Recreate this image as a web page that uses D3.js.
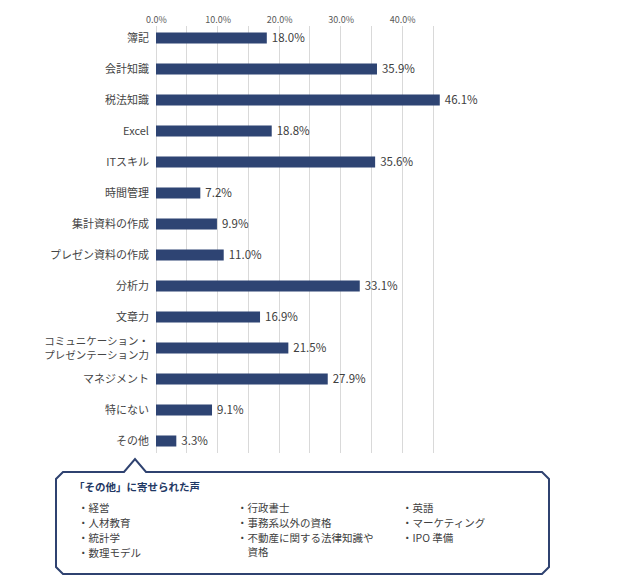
<!DOCTYPE html>
<html><head><meta charset="utf-8">
<script src="https://cdn.jsdelivr.net/npm/d3@7"></script>
<style>
html,body{margin:0;padding:0;background:#fff;}
svg{display:block;font-family:"Noto Sans CJK JP","Noto Sans",sans-serif;}
</style></head>
<body>
<svg id="chart" width="617" height="587"></svg>
<script>
const categories = ["簿記","会計知識","税法知識","Excel","ITスキル","時間管理","集計資料の作成","プレゼン資料の作成","分析力","文章力","コミュニケーション・\nプレゼンテーション力","マネジメント","特にない","その他"];
const values = [18.0,35.9,46.1,18.8,35.6,7.2,9.9,11.0,33.1,16.9,21.5,27.9,9.1,3.3];
const tickValues = [0,10,20,30,40];
const gridValues = [0,5,10,15,20,25,30,35,40,45];
const calloutTitle = "「その他」に寄せられた声";
const calloutCol1 = ["経営","人材教育","統計学","数理モデル"];
const calloutCol2 = ["行政書士","事務系以外の資格","不動産に関する法律知識や\n資格"];
const calloutCol3 = ["英語","マーケティング","IPO 準備"];

const svg = d3.select("#chart");
const x = d3.scaleLinear().domain([0,45]).range([156,433]);
const y = d3.scaleBand().domain(categories).range([22.5,456.5]).paddingInner(0.645).paddingOuter(0.3225);

// grid
svg.append("g").selectAll("line").data(gridValues).join("line")
  .attr("x1",d=>x(d)).attr("x2",d=>x(d)).attr("y1",26).attr("y2",453)
  .attr("stroke","#d9d9d9").attr("stroke-width",1).attr("shape-rendering","crispEdges");

// top axis labels
const axis = d3.axisTop(x).tickValues(tickValues).tickSize(0).tickPadding(0).tickFormat(d=>d.toFixed(1)+"%");
const ag = svg.append("g").attr("transform","translate(0,23)").call(axis);
ag.select(".domain").remove();
ag.selectAll("text").attr("font-size","9px").attr("fill","#595959").attr("font-family","'Noto Sans CJK JP',sans-serif");

// bars
svg.append("g").selectAll("rect").data(values).join("rect")
  .attr("x",x(0)).attr("y",(d,i)=>y(categories[i]))
  .attr("width",d=>x(d)-x(0)).attr("height",y.bandwidth())
  .attr("fill","#2e4473");

// value labels
svg.append("g").selectAll("text").data(values).join("text")
  .attr("x",d=>x(d)+5).attr("y",(d,i)=>y(categories[i])+y.bandwidth()/2)
  .attr("dy","0.36em").attr("font-size","11.5px").attr("fill","#404040")
  .text(d=>d.toFixed(1)+"%");

// category labels
svg.append("g").selectAll("g").data(categories).join("g").each(function(d){
  const lines = d.split("\n");
  const cy = y(d)+y.bandwidth()/2;
  const g = d3.select(this);
  const fs = lines.length>1 ? 10.5 : 11;
  lines.forEach((ln,k)=>{
    g.append("text").attr("x",149).attr("text-anchor","end")
     .attr("font-size",fs+"px").attr("fill","#454545")
     .attr("y",cy + (k-(lines.length-1)/2)*14)
     .attr("dy","0.36em").text(ln);
  });
});

// callout box
const pts = [[63,472],[124,472],[135,459],[146,472],[542,472],[549,479],[549,567],[542,574],[63,574],[56,567],[56,479]];
svg.append("path").attr("d", d3.line()(pts)+"Z")
  .attr("fill","#fff").attr("stroke","#2f4270").attr("stroke-width",2).attr("stroke-linejoin","miter");

svg.append("text").attr("x",74).attr("y",487).attr("dy","0.36em")
  .attr("font-size","10.5px").attr("font-weight","bold").attr("fill","#1f3864").text(calloutTitle);

function col(items,x0){
  const g = svg.append("g");
  let yy = 508;
  items.forEach(it=>{
    const lines = it.split("\n");
    lines.forEach((ln,k)=>{
      g.append("text").attr("x",k===0?x0:x0+10.5).attr("y",yy).attr("dy","0.36em")
       .attr("font-size","10.5px").attr("fill","#404040").text((k===0?"・":"")+ln);
      yy += (k===lines.length-1) ? 15 : 14;
    });
  });
}
col(calloutCol1,78);
col(calloutCol2,237);
col(calloutCol3,402);
</script>
</body></html>
